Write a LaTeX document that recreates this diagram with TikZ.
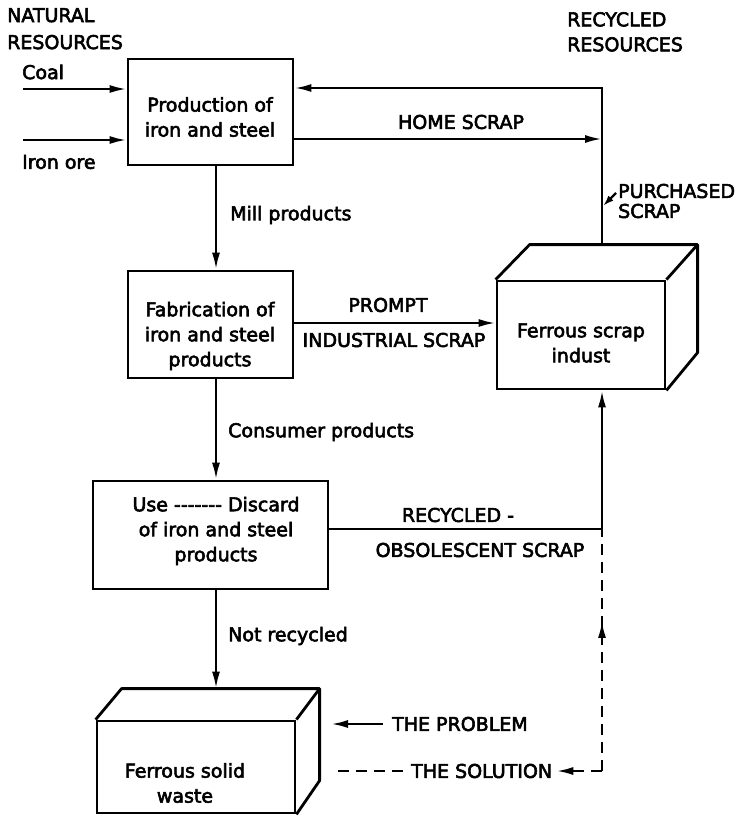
\documentclass[tikz,border=0pt]{standalone}
\usepackage{fontspec}
\setmainfont{DejaVu Sans}[FakeBold=3]
\usetikzlibrary{arrows.meta,decorations.markings}
\begin{document}
\begin{tikzpicture}[x=1pt,y=-1pt,
  lbl/.style={font=\fontsize{19}{25}\selectfont, inner sep=0pt},
  boxtext/.style={lbl, align=center},
  box/.style={draw, line width=2.8pt, inner sep=0pt},
  face/.style={line width=2.8pt, line join=round},
  flow/.style={line width=2.4pt},
  tip/.style={-{Latex[length=17pt,width=8pt]}},
  arr/.style={flow, tip},
  smallarr/.style={flow, -{Latex[length=11pt,width=7pt]}},
  dashline/.style={flow, dash pattern=on 11pt off 7pt},
  midup/.style={postaction={decorate}, decoration={markings,
      mark=at position 0.62 with {\arrow{Latex[length=17pt,width=8pt]}}}}
]
\useasboundingbox (0,0) rectangle (750,816);

% guide coordinates for the connector rows and columns
\coordinate (col) at (602,0);
\coordinate (spine) at (216,0);
\coordinate (topRow) at (0,88);
\coordinate (homeRow) at (0,139);
\coordinate (promptRow) at (0,323);
\coordinate (recRow) at (0,529);
\coordinate (coalStart) at (23,89);
\coordinate (oreStart) at (23,140);
\coordinate (solCorner) at (602,771);
\coordinate (solStart) at (338,771);
\coordinate (probTip) at (331,724);
\coordinate (purchTip) at (603,206);

% process boxes
\node[box, minimum width=165pt, minimum height=106pt] (prod) at (210.5,112) {};
\node[boxtext] (prodT) at (210,117) {Production of\\iron and steel};
\node[box, minimum width=165pt, minimum height=107pt] (fab) at (210.5,324.5) {};
\node[boxtext] (fabT) at (210,336) {Fabrication of\\iron and steel\\products};
\node[box, minimum width=235pt, minimum height=108pt] (use) at (210.5,535) {};
\node[boxtext] (useT) at (216,531) {Use {-}{-}{-}{-}{-}{-}{-} Discard\\of iron and steel\\products};

% scrap industry block
\node[box, minimum width=168pt, minimum height=108pt] (scrap) at (581,335) {};
\draw[face] (scrap.north west) -- ++(34,-35) coordinate (scrapTL) -- ++(168,0) coordinate (scrapTR)
  -- ++(0,108) coordinate (scrapBR) -- (scrap.south east);
\draw[face] (scrap.north east) -- (scrapTR);
\node[boxtext] (scrapT) at (581,343) {Ferrous scrap\\indust};

% solid waste block
\node[box, minimum width=198pt, minimum height=92pt] (waste) at (196,767) {};
\draw[face] (waste.north west) -- ++(26,-31) coordinate (wasteTL) -- ++(198,0) coordinate (wasteTR)
  -- ++(0,92) coordinate (wasteBR) -- (waste.south east);
\draw[face] (waste.north east) -- (wasteTR);
\node[boxtext] (wasteT) at (185,783) {Ferrous solid\\waste};

% headings and labels
\node[lbl, font=\fontsize{19}{27}\selectfont, align=left, anchor=north west] (natural) at (7,8) {NATURAL\\RESOURCES};
\node[lbl, align=left, anchor=north west] (recycled) at (567,12) {RECYCLED\\RESOURCES};
\node[lbl, anchor=west] (coal) at (22,72) {Coal};
\node[lbl, anchor=west] (ore) at (22,162) {Iron ore};
\node[lbl] (home) at (461,122) {HOME SCRAP};
\node[lbl, font=\fontsize{19}{20}\selectfont, align=left, anchor=west] (purch) at (618,201) {PURCHASED\\SCRAP};
\node[lbl, anchor=west] (mill) at (230,215) {Mill products};
\node[lbl] (prompt) at (388,305) {PROMPT};
\node[lbl] (indus) at (394,340) {INDUSTRIAL SCRAP};
\node[lbl, anchor=west] (consumer) at (228,432) {Consumer products};
\node[lbl] (recy) at (458,515) {RECYCLED -};
\node[lbl] (obso) at (480,550) {OBSOLESCENT SCRAP};
\node[lbl, anchor=west] (notrec) at (228,636) {Not recycled};
\node[lbl, anchor=west] (prob) at (392,724) {THE PROBLEM};
\node[lbl, anchor=west] (sol) at (411,771) {THE SOLUTION};

% raw materials in
\draw[arr] (coalStart) -- (coalStart -| prod.west);
\draw[arr] (oreStart) -- (oreStart -| prod.west);

% recycled resources loop
\draw[arr] (col |- scrapTL) -- (col |- topRow) -- (topRow -| prod.east);
\draw[arr] (homeRow -| prod.east) -- (homeRow -| col);
\draw[smallarr] ([xshift=-2pt,yshift=8pt]purch.west) -- (purchTip);

% main product flow
\draw[arr] (prod.south -| spine) -- (fab.north -| spine);
\draw[arr] (fab.south -| spine) -- (use.north -| spine);
\draw[arr] (use.south -| spine) -- (wasteTL -| spine);

% scrap returns
\draw[arr] (promptRow -| fab.east) -- (promptRow -| scrap.west);
\draw[arr] (recRow -| use.east) -- (recRow -| col) -- (scrap.south -| col);

% problem and solution
\draw[arr] ([xshift=-9pt]prob.west) -- (probTip);
\draw[dashline] (solStart) -- ([xshift=-3pt]sol.west);
\draw[dashline, tip] (solCorner) -- ([xshift=4pt]sol.east);
\draw[dashline, midup] (solCorner) -- (recRow -| col);
\end{tikzpicture}
\end{document}
